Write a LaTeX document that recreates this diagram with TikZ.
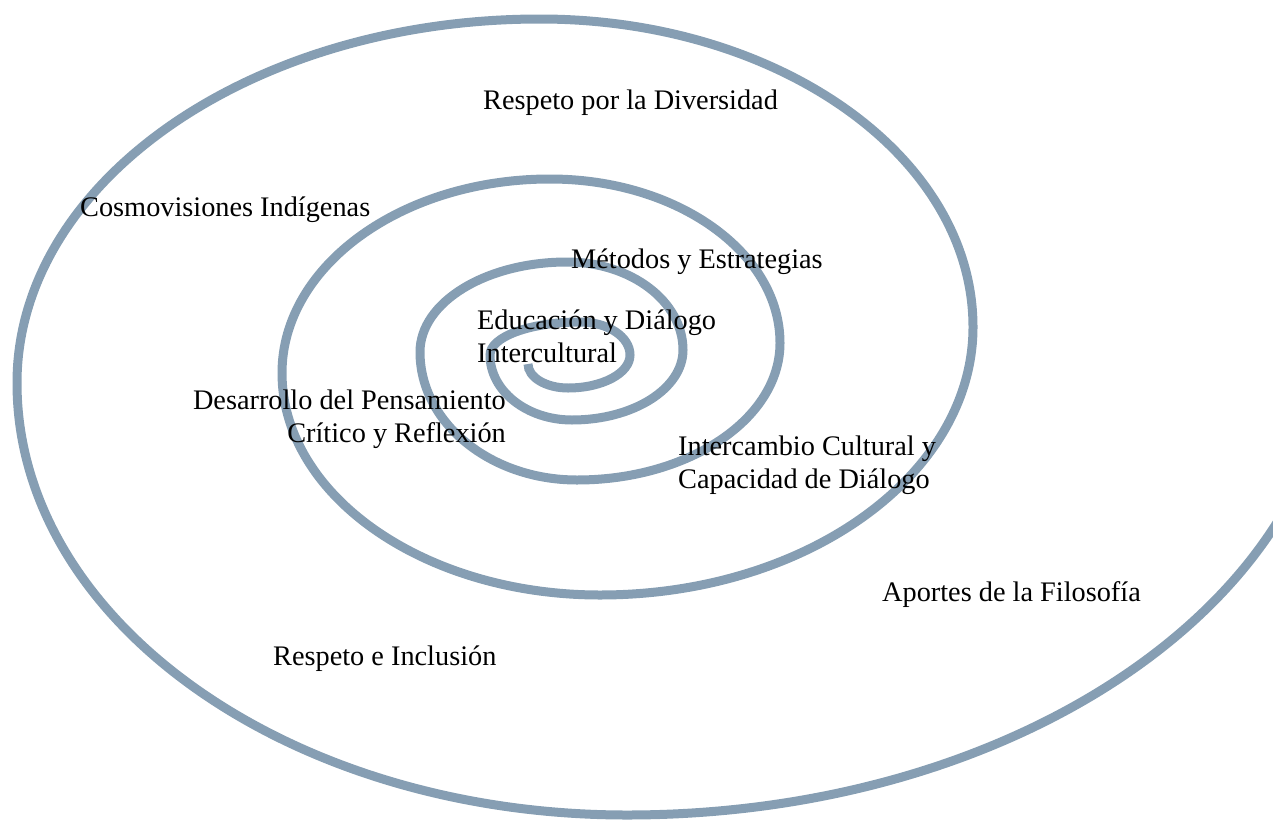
\documentclass[tikz,border=0pt]{standalone}
\usepackage{fontspec}
\setmainfont{Liberation Serif}
\usetikzlibrary{calc}
\definecolor{spiralblue}{RGB}{134,158,179}
% quarter-ellipse pieces: from a horizontal-tangent point to a vertical-tangent one, and back
\newcommand\kq{0.5523}
\newcommand\hvq[2]{.. controls ($(#1)!\kq!(#1 -| #2)$) and ($(#2)!\kq!(#1 -| #2)$) .. (#2)}
\newcommand\vhq[2]{.. controls ($(#1)!\kq!(#1 |- #2)$) and ($(#2)!\kq!(#1 |- #2)$) .. (#2)}
\tikzset{
  spiral/.style={draw=spiralblue, line width=9pt},
  lbl/.style={inner sep=0pt, text=black, font=\fontsize{28.3}{33.5}\selectfont},
}
\begin{document}
\begin{tikzpicture}[x=1pt,y=-1pt]
\useasboundingbox (0,0) rectangle (1273,819);
% turning points of the spiral, from the centre outwards
\coordinate (S)  at (528,364);
\coordinate (B1) at (568,388);
\coordinate (R1) at (630,355);
\coordinate (T1) at (580,322);
\coordinate (L1) at (490,355);
\coordinate (B2) at (572,420);
\coordinate (R2) at (683,350);
\coordinate (T2) at (567,262);
\coordinate (L2) at (420,352);
\coordinate (B3) at (577,480);
\coordinate (R3) at (780,343);
\coordinate (T3) at (550,179);
\coordinate (L3) at (282,373);
\coordinate (B4) at (600,595);
\coordinate (R4) at (973,327);
\coordinate (T4) at (540,19);
\coordinate (L4) at (17,383);
\coordinate (B5) at (627,815);
\coordinate (R5) at (1335,330);
\begin{scope}
\clip (0,0) rectangle (1273,819);
\draw[spiral] (S) \vhq{S}{B1} \hvq{B1}{R1} \vhq{R1}{T1} \hvq{T1}{L1}
  \vhq{L1}{B2} \hvq{B2}{R2} \vhq{R2}{T2} \hvq{T2}{L2}
  \vhq{L2}{B3} \hvq{B3}{R3} \vhq{R3}{T3} \hvq{T3}{L3}
  \vhq{L3}{B4} \hvq{B4}{R4} \vhq{R4}{T4} \hvq{T4}{L4}
  \vhq{L4}{B5} \hvq{B5}{R5};
\end{scope}
% labels
\node[lbl, anchor=base west] (diversidad) at (483,109) {Respeto por la Diversidad};
\node[lbl, anchor=base west] (cosmo) at (80,216) {Cosmovisiones Indígenas};
\node[lbl, anchor=base west] (metodos) at (571,268) {Métodos y Estrategias};
\node[lbl, anchor=base west] (educacion) at (477,329)
  {\begin{tabular}[t]{@{}l@{}}Educación y Diálogo\\Intercultural\end{tabular}};
\node[lbl, anchor=base east] (pensamiento) at (506,409)
  {\begin{tabular}[t]{@{}r@{}}Desarrollo del Pensamiento\\Crítico y Reflexión\end{tabular}};
\node[lbl, anchor=base west] (intercambio) at (678,455)
  {\begin{tabular}[t]{@{}l@{}}Intercambio Cultural y\\Capacidad de Diálogo\end{tabular}};
\node[lbl, anchor=base west] (aportes) at (882,601) {Aportes de la Filosofía};
\node[lbl, anchor=base west] (inclusion) at (273,665) {Respeto e Inclusión};
\end{tikzpicture}
\end{document}
